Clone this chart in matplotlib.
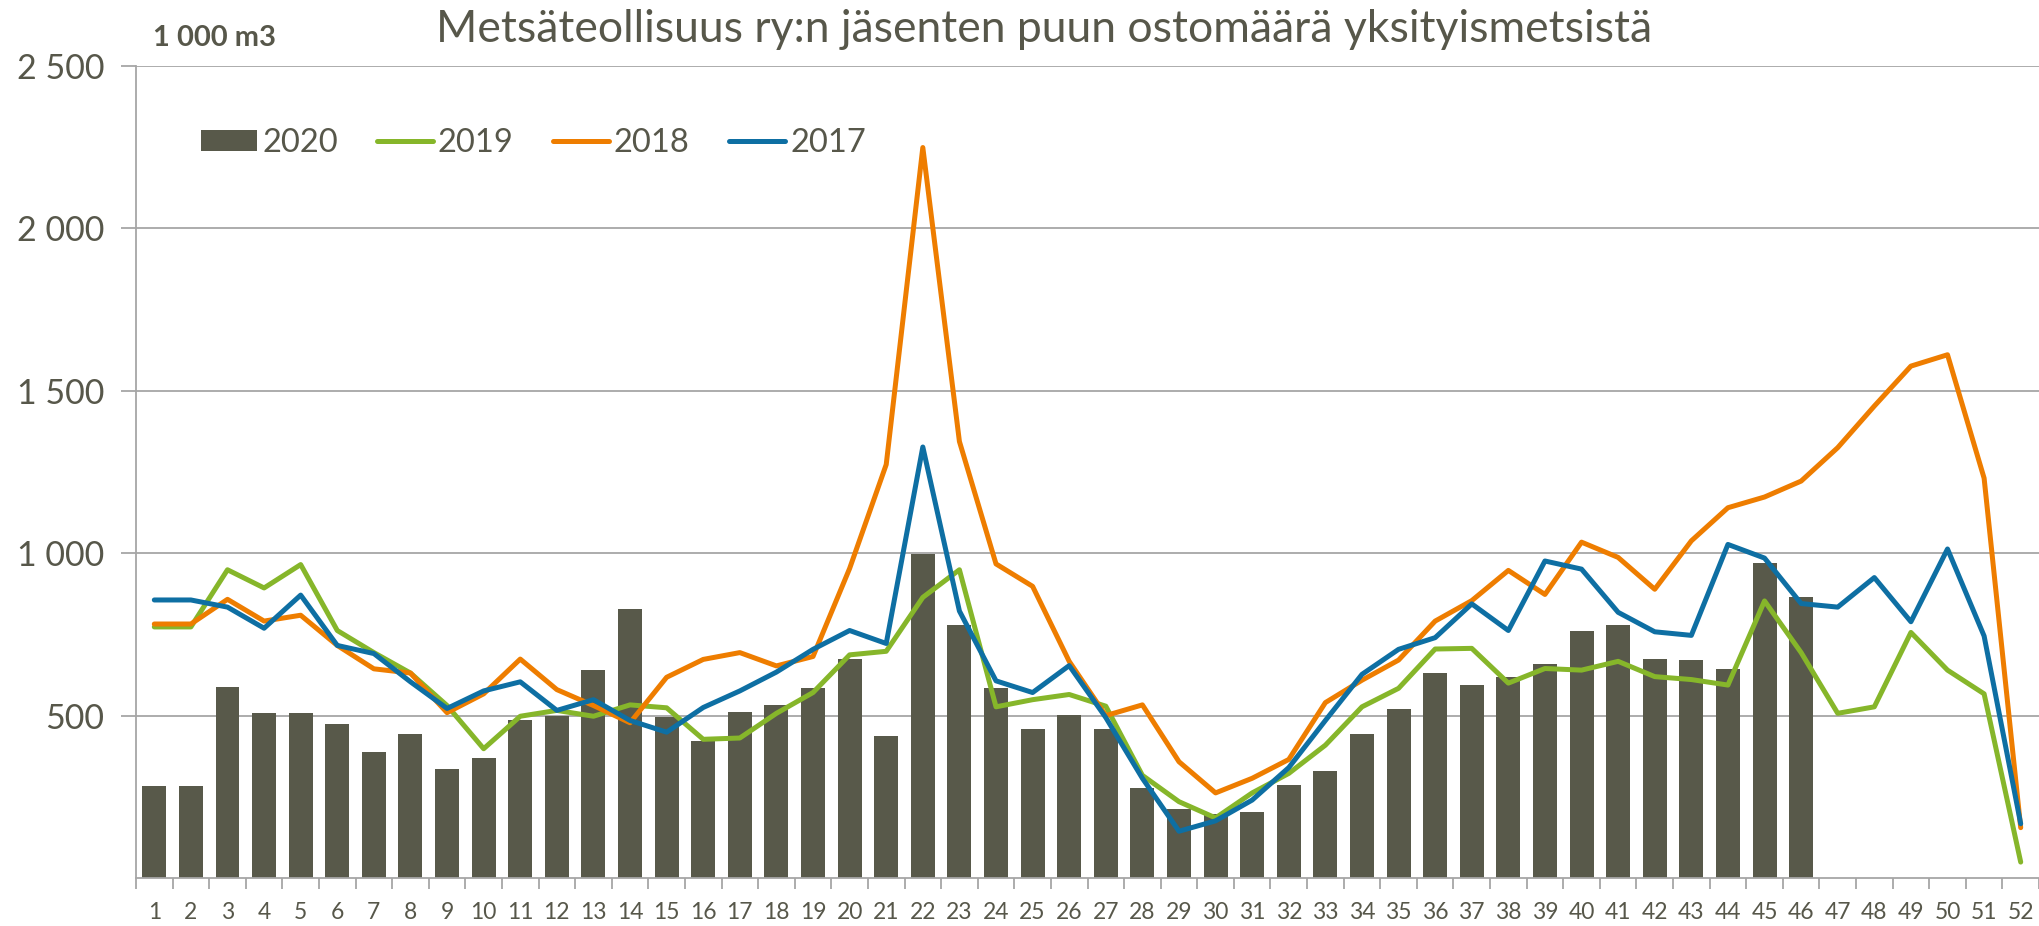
import matplotlib.pyplot as plt
import numpy as np

weeks = list(range(1, 53))

# 2020 purchases (1 000 m3), weeks 1-46
vol_2020 = [282, 282, 589, 507, 509, 474, 389, 444, 335, 369, 485, 500, 640, 827, 496,
            422, 511, 533, 585, 673, 436, 996, 778, 584, 460, 502, 460, 276, 213, 198,
            202, 285, 329, 444, 520, 631, 594, 620, 658, 762, 778, 673, 671, 644, 969, 864]

vol_2019 = [773, 773, 949, 893, 965, 762, 694, 631, 531, 398, 498, 516, 498, 533, 524,
            427, 431, 507, 571, 687, 698, 864, 949, 527, 549, 565, 529, 316, 235, 185,
            262, 322, 409, 527, 584, 705, 707, 600, 645, 640, 667, 620, 611, 594, 853, 694,
            507, 527, 756, 640, 567, 49]

vol_2018 = [782, 782, 858, 791, 809, 716, 644, 631, 509, 567, 674, 580, 531, 478, 618,
            673, 694, 653, 682, 953, 1273, 2249, 1344, 967, 898, 667, 500, 533, 358, 262,
            307, 365, 540, 609, 671, 791, 854, 947, 873, 1034, 987, 889, 1038, 1140, 1173, 1222,
            1325, 1453, 1576, 1611, 1231, 155]

vol_2017 = [856, 856, 834, 769, 871, 716, 691, 604, 522, 576, 604, 516, 549, 485, 449,
            525, 576, 634, 704, 762, 722, 1327, 822, 607, 571, 654, 494, 307, 144, 176,
            240, 340, 485, 627, 704, 740, 844, 762, 976, 951, 818, 758, 747, 1027, 985, 845,
            834, 925, 789, 1013, 745, 167]

y_ticks = [500, 1000, 1500, 2000, 2500]
y_labels = ["500", "1 000", "1 500", "2 000", "2 500"]

txt = "#57574a"
grid = "#a6a6a6"

plt.rcParams['font.family'] = ['Lato', 'DejaVu Sans']

W, H = 2040, 926
fig = plt.figure(figsize=(W / 100, H / 100), dpi=100)
# axes box in pixels: x 136..2039, y 66..878
ax = fig.add_axes([136 / W, 1 - 878 / H, 1903 / W, 812 / H])

bars = ax.bar(weeks[:len(vol_2020)], vol_2020, width=0.655, color="#58594a", label="2020", zorder=2)
line_kw = dict(lw=3.6, solid_capstyle="round", solid_joinstyle="round")
l19, = ax.plot(weeks, vol_2019, color="#86b62a", label="2019", zorder=3, **line_kw)
l18, = ax.plot(weeks, vol_2018, color="#ee7d00", label="2018", zorder=4, **line_kw)
l17, = ax.plot(weeks, vol_2017, color="#0e6fa3", label="2017", zorder=5, **line_kw)

ax.set_xlim(0.5, 52.5)
ax.set_ylim(0, 2500)
ax.set_yticks(y_ticks)
ax.set_yticklabels(y_labels)
ax.set_xticks(weeks)
ax.set_xticklabels([str(w) for w in weeks])
ax.set_xticks(np.arange(0.5, 53, 1), minor=True)
ax.tick_params(axis="x", which="major", length=0, pad=17, labelsize=16.5, labelcolor=txt)
ax.tick_params(axis="x", which="minor", length=8, color=grid, width=1.3)
ax.tick_params(axis="y", length=11, color=grid, width=1.3, labelsize=24.5, labelcolor=txt, pad=12)

ax.grid(axis="y", color=grid, lw=1.3, zorder=0)
ax.set_axisbelow(True)
for s in ["top", "right"]:
    ax.spines[s].set_visible(False)
for s in ["left", "bottom"]:
    ax.spines[s].set_color(grid)
    ax.spines[s].set_linewidth(1.3)

fig.text(1044 / W, 1 - 42 / H, "Metsäteollisuus ry:n jäsenten puun ostomäärä yksityismetsistä",
         ha="center", va="baseline", fontsize=32, color=txt)
fig.text(153 / W, 1 - 46 / H, "1 000 m3", ha="left", va="baseline", fontsize=21,
         fontweight="bold", color=txt)

leg = ax.legend([bars, l19, l18, l17], ["2020", "2019", "2018", "2017"],
                loc="center left", bbox_to_anchor=(65 / 1903, (878 - 143) / 812), ncol=4,
                frameon=False, fontsize=23.5, handlelength=1.72, handleheight=0.6,
                handletextpad=0.15, columnspacing=1.2, borderpad=0, borderaxespad=0)
for t in leg.get_texts():
    t.set_color(txt)

fig.savefig("out.png", dpi=100)
